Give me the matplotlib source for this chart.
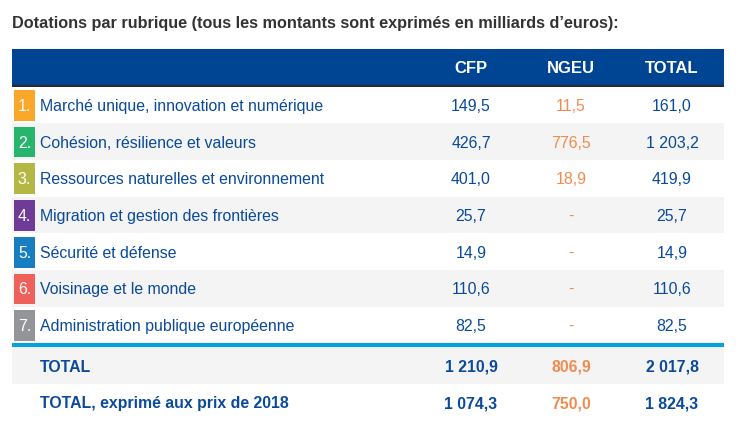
import matplotlib.pyplot as plt
from matplotlib.patches import Rectangle

plt.rcParams['font.family'] = ['Liberation Sans', 'DejaVu Sans']

title = "Dotations par rubrique (tous les montants sont exprimés en milliards d’euros):"
columns = ['CFP', 'NGEU', 'TOTAL']
rubriques = ['Marché unique, innovation et numérique',
             'Cohésion, résilience et valeurs',
             'Ressources naturelles et environnement',
             'Migration et gestion des frontières',
             'Sécurité et défense',
             'Voisinage et le monde',
             'Administration publique européenne']
cfp = [149.5, 426.7, 401.0, 25.7, 14.9, 110.6, 82.5]
ngeu = [11.5, 776.5, 18.9, None, None, None, None]
total = [161.0, 1203.2, 419.9, 25.7, 14.9, 110.6, 82.5]
total_labels = ['TOTAL', 'TOTAL, exprimé aux prix de 2018']
total_cfp = [1210.9, 1074.3]
total_ngeu = [806.9, 750.0]
total_all = [2017.8, 1824.3]
box_colors = ['#fba72a', '#27b56e', '#b5b744', '#6e3b96', '#177ec1', '#f0605a', '#939598']

blue = '#0a4a9c'
orange = '#f28b4e'
header_blue = '#004494'
stripe = '#f4f4f4'


def fr(v):
    if v is None:
        return '-'
    s = f'{v:,.1f}'
    return s.replace(',', ' ').replace('.', ',')


W, H = 746, 428
fig = plt.figure(figsize=(W / 100, H / 100), dpi=100)
ax = fig.add_axes([0, 0, 1, 1])
ax.set_xlim(0, W)
ax.set_ylim(H, 0)
ax.axis('off')

left, right = 12, 724
col_x = [471, 571, 672]
row_h = 36.7
fs = 11.4
dy = 1.5  # text sits slightly below the row middle

ax.text(left, 23, title, fontsize=11.7, fontweight='bold', color='#333333', va='center', ha='left')

# header
ax.add_patch(Rectangle((left, 49), right - left, 36, color=header_blue, lw=0))
ax.add_patch(Rectangle((left, 84.5), right - left, 2, color='#2b2b2b', lw=0))
for x, c in zip(col_x, columns):
    ax.text(x, 68, c, fontsize=12, fontweight='bold', color='white', ha='center', va='center')

top = 86.5
for i, (name, a, b, c) in enumerate(zip(rubriques, cfp, ngeu, total)):
    y0 = top + i * row_h
    yc = y0 + row_h / 2 + dy
    if i % 2 == 1:
        ax.add_patch(Rectangle((left, y0), right - left, row_h, color=stripe, lw=0))
    ax.add_patch(Rectangle((14, y0 + 3.5), 21, row_h - 6, color=box_colors[i], lw=0))
    ax.text(24.5, yc, f'{i + 1}.', fontsize=fs, color='white', ha='center', va='center')
    ax.text(40, yc, name, fontsize=fs, color=blue, ha='left', va='center')
    ax.text(col_x[0], yc, fr(a), fontsize=fs, color=blue, ha='center', va='center')
    ax.text(col_x[1], yc, fr(b), fontsize=fs, color=orange, ha='center', va='center')
    ax.text(col_x[2], yc, fr(c), fontsize=fs, color=blue, ha='center', va='center')

sep = top + len(rubriques) * row_h
ax.add_patch(Rectangle((left, sep), right - left, 4, color='#00a4e0', lw=0))

t0 = sep + 4
for j, (name, a, b, c) in enumerate(zip(total_labels, total_cfp, total_ngeu, total_all)):
    y0 = t0 + j * row_h
    yc = y0 + row_h / 2 + dy
    if j == 0:
        ax.add_patch(Rectangle((left, y0), right - left, row_h, color=stripe, lw=0))
    ax.text(40, yc, name, fontsize=fs, fontweight='bold', color=blue, ha='left', va='center')
    ax.text(col_x[0], yc, fr(a), fontsize=fs, fontweight='bold', color=blue, ha='center', va='center')
    ax.text(col_x[1], yc, fr(b), fontsize=fs, fontweight='bold', color=orange, ha='center', va='center')
    ax.text(col_x[2], yc, fr(c), fontsize=fs, fontweight='bold', color=blue, ha='center', va='center')

fig.savefig('out.png', dpi=100)
